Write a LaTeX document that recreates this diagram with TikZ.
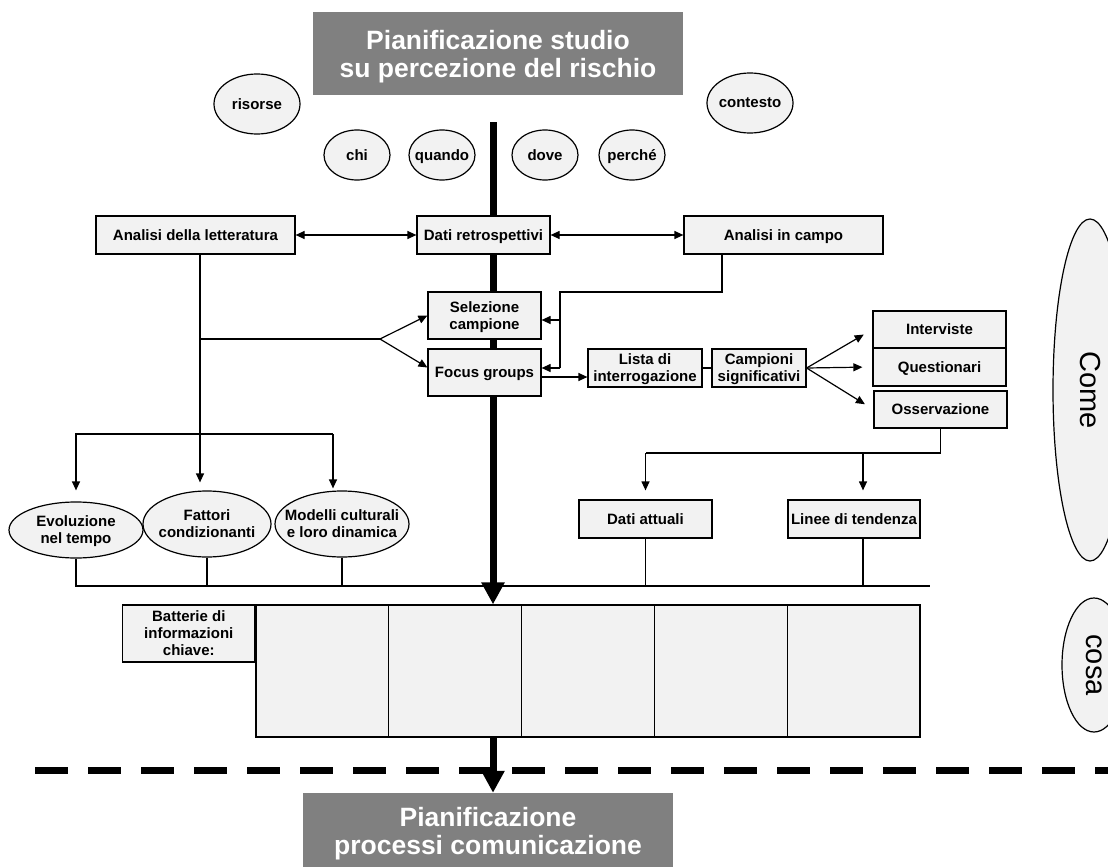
\documentclass[tikz,border=0pt]{standalone}
\usepackage{fontspec}
\setmainfont{Liberation Sans}
\usetikzlibrary{shapes.geometric,arrows.meta,backgrounds}
\definecolor{boxgray}{HTML}{F2F2F2}
\definecolor{plangray}{HTML}{808080}

\begin{document}
\begin{tikzpicture}[x=1pt,y=-1pt,
  box/.style={draw,line width=1.2pt,fill=boxgray,inner sep=0pt,align=center,text depth=0pt,font=\bfseries\fontsize{15}{17}\selectfont},
  ovtext/.style={inner sep=0pt,align=center,text depth=0pt,font=\bfseries\fontsize{15}{17}\selectfont},
  oval/.style={draw,ellipse,line width=1.2pt,fill=boxgray,inner sep=0pt,label={[ovtext]center:#1}},
  plan/.style={fill=plangray,text=white,inner sep=0pt,align=center,text depth=0pt,font=\bfseries\fontsize{26.5}{28}\selectfont},
  link/.style={line width=1.2pt},
  arr/.style={link,-{Triangle[length=9pt,width=8pt]}},
  dbl/.style={link,{Triangle[length=9pt,width=8pt]}-{Triangle[length=9pt,width=8pt]}},
  spine/.style={line width=7pt,-{Triangle[length=22pt,width=22pt]}}]
\useasboundingbox (0,0) rectangle (1108,867);

% Planning boxes
\node[plan,minimum width=370,minimum height=83] (studio) at (498,53.5) {Pianificazione studio\\su percezione del rischio};
\node[plan,minimum width=370,minimum height=76] (comm) at (488,831) {Pianificazione\\processi comunicazione};

% Questions
\node[oval=risorse,minimum width=86,minimum height=60] (risorse) at (257,104) {};
\node[oval=contesto,minimum width=86,minimum height=60] (contesto) at (750,103) {};
\node[oval=chi,minimum width=66,minimum height=50] (chi) at (357,155) {};
\node[oval=quando,minimum width=66,minimum height=50] (quando) at (442,155) {};
\node[oval=dove,minimum width=66,minimum height=50] (dove) at (545,155) {};
\node[oval=perché,minimum width=66,minimum height=50] (perche) at (632,155) {};

% Sources
\node[box,minimum width=199,minimum height=38] (lett) at (195.5,235) {Analisi della letteratura};
\node[box,minimum width=133,minimum height=38] (dati) at (483.5,235) {Dati retrospettivi};
\node[box,minimum width=199,minimum height=38] (campo) at (783.5,235) {Analisi in campo};
\node[box,minimum width=113,minimum height=47] (sel) at (484.5,315.5) {Selezione\\campione};
\node[box,minimum width=113,minimum height=47] (focus) at (484.5,372.5) {Focus groups};
\node[box,minimum width=114,minimum height=38] (lista) at (645,368) {Lista di\\interrogazione};
\node[box,minimum width=94,minimum height=38] (camp) at (759,368) {Campioni\\significativi};
\node[box,minimum width=133,minimum height=37] (interv) at (939.5,329.5) {Interviste};
\node[box,minimum width=133,minimum height=38] (quest) at (939.5,367) {Questionari};
\node[box,minimum width=133,minimum height=37] (oss) at (940.5,409.5) {Osservazione};

% Results
\node[oval={Evoluzione\\nel tempo},minimum width=134,minimum height=56] (evol) at (76,530) {};
\node[oval={Fattori\\condizionanti},minimum width=128,minimum height=66] (fatt) at (207,524) {};
\node[oval={Modelli culturali\\e loro dinamica},minimum width=134,minimum height=66] (mod) at (342,524) {};
\node[box,minimum width=133,minimum height=38] (attuali) at (645.5,519) {Dati attuali};
\node[box,minimum width=132,minimum height=38] (linee) at (854,519) {Linee di tendenza};

% Key information table
\foreach \i in {1,...,5}
  \node[box,minimum width=132.8,minimum height=132] (cell\i) at ({256+(\i-0.5)*132.8},671) {};
\node[box,minimum width=132,minimum height=57,anchor=north east] (batt) at (cell1.north west) {Batterie di\\informazioni\\chiave:};

% Come / cosa
\node[draw,ellipse,line width=1.2pt,fill=boxgray,minimum width=74,minimum height=342,
  label={[rotate=-90,font=\fontsize{29}{34}\selectfont]center:Come}] (come) at (1090,390) {};
\node[draw,ellipse,line width=1.2pt,fill=boxgray,minimum width=64,minimum height=134,
  label={[rotate=-90,font=\fontsize{29}{34}\selectfont]center:cosa}] (cosa) at (1094,665) {};

% Connectors
\coordinate (axis) at (493,122);
\coordinate (fork) at (380,339);
\coordinate (split) at (0,434);
\coordinate (cs) at (560,292);
\coordinate (os) at (0,453);
\coordinate (bus) at (0,586);
\coordinate (busend) at (930,586);
\coordinate (cutL) at (35,770);
\coordinate (cutR) at (1130,770);
\coordinate (lettout) at ([xshift=4.5pt]lett.south);
\coordinate (modin) at ([xshift=-9pt]mod.north);
\coordinate (lineein) at ([xshift=9pt]linee.north);
\coordinate (lineeout) at ([xshift=9pt]linee.south);
\coordinate (selin) at ([yshift=-4.5pt]sel.east);
\coordinate (focin) at ([yshift=4.5pt]focus.east);
\coordinate (focout) at ([yshift=-4.5pt]focus.east);

\draw[dbl] (lett) -- (dati);
\draw[dbl] (dati) -- (campo);
\draw[arr,shorten >=8pt] (lettout) -- (lettout |- fatt.north);
\draw[link] (lettout |- fork) -- (fork);
\draw[arr] (fork) -- (sel.west);
\draw[arr] (fork) -- ([yshift=5pt]focus.west);
\draw[arr,shorten >=11pt] (modin |- split) -| (evol.north);
\draw[arr,shorten >=2pt] (modin |- split) -- (modin);
\draw[link] ([xshift=-61.5pt]campo.south) |- (cs) -- (cs |- focin);
\draw[arr] (cs |- selin) -- (selin);
\draw[arr] (cs |- focin) -- (focin);
\draw[arr] (focout) -- (focout -| lista.west);
\draw[link] (lista) -- (camp);
\foreach \t in {interv,quest,oss}
  \draw[arr,shorten >=10pt] (camp.east) -- (\t.west);
\draw[link] (oss.south) |- (attuali.north |- os);
\draw[arr,shorten >=9pt] (attuali.north |- os) -- (attuali.north);
\draw[arr,shorten >=9pt] (lineein |- os) -- (lineein);

\begin{scope}[on background layer]
\draw[link] (evol.south) -- (evol.south |- bus) -- (busend);
\foreach \n in {fatt,mod,attuali}
  \draw[link] (\n.south) -- (\n.south |- bus);
\draw[link] (lineeout) -- (lineeout |- bus);
\draw[line width=7pt,dash pattern=on 33pt off 20pt] (cutL) -- (cutR);
\draw[spine] (axis) -- (axis |- cell2.north);
\draw[spine] (axis |- cell2.south) -- (axis |- comm.north);
\end{scope}
\end{tikzpicture}
\end{document}
